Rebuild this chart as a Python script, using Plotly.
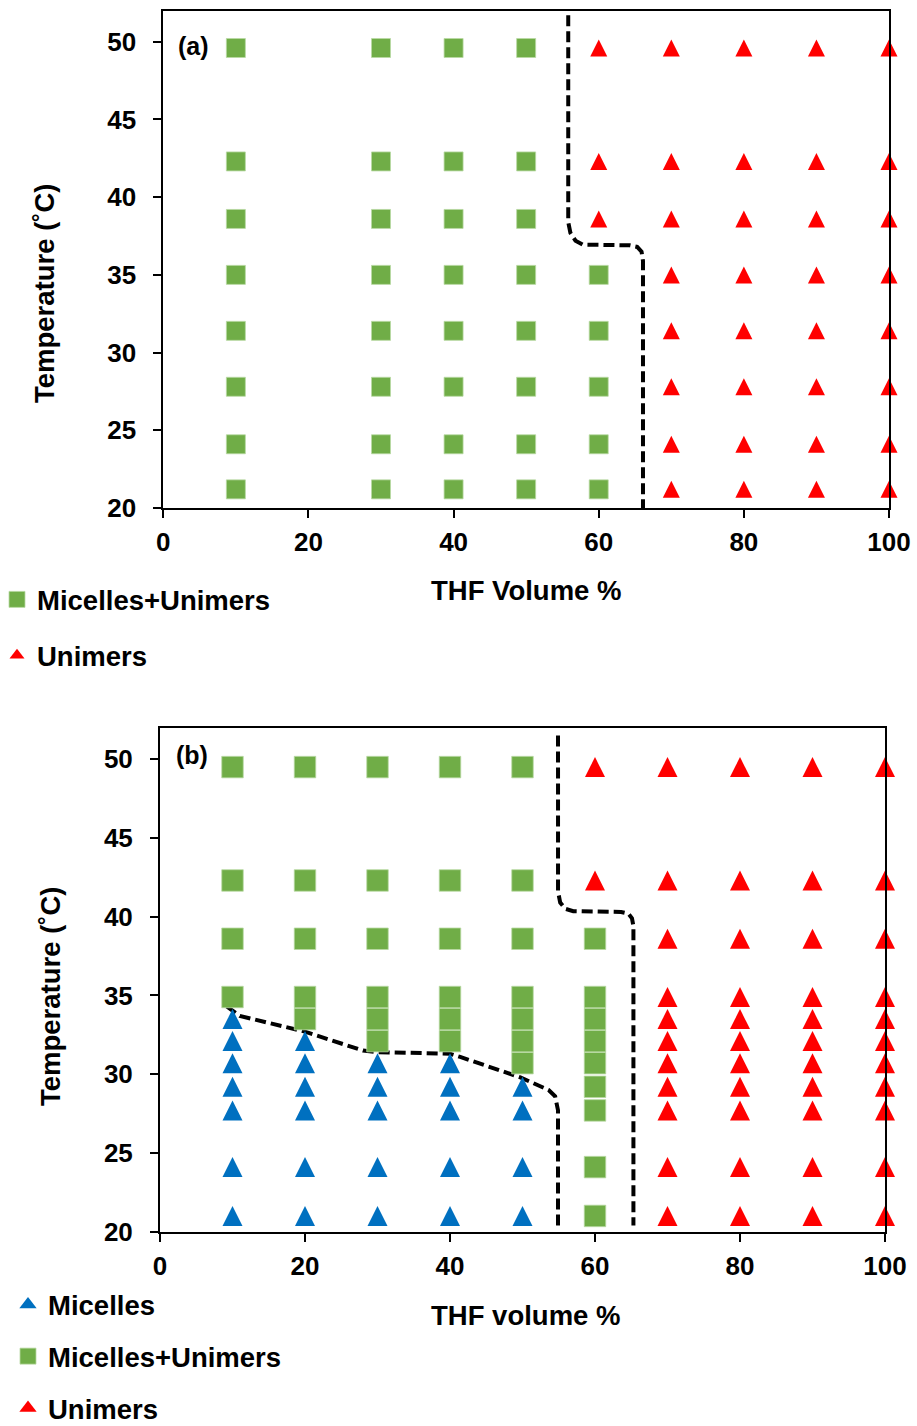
import plotly.graph_objects as go

# ---------------- data ----------------
# Panel (a)
temps_a = [21.2, 24.1, 27.8, 31.4, 35.0, 38.6, 42.3, 49.6]
thf_a = [10, 30, 40, 50, 60, 70, 80, 90, 100]
# phase per THF column, one letter per temperature in temps_a
# B = Micelles+Unimers, U = Unimers, M = Micelles
phase_a = ["BBBBBBBB", "BBBBBBBB", "BBBBBBBB", "BBBBBBBB", "BBBBBUUU",
           "UUUUUUUU", "UUUUUUUU", "UUUUUUUU", "UUUUUUUU"]

boundary_a_x = [55.8, 55.8, 56.1, 56.8, 57.8, 64.3, 65.3, 65.9, 66.1, 66.1]
boundary_a_y = [51.7, 38.4, 37.7, 37.2, 36.95, 36.9, 36.8, 36.5, 35.9, 20.0]

# Panel (b)
temps_b = [21.0, 24.1, 27.7, 29.2, 30.7, 32.1, 33.5, 34.9, 38.6, 42.3, 49.5]
thf_b = [10, 20, 30, 40, 50, 60, 70, 80, 90, 100]
phase_b = ["MMMMMMMBBBB", "MMMMMMBBBBB", "MMMMMBBBBBB", "MMMMMBBBBBB",
           "MMMMBBBBBBB", "BBBBBBBBBUU", "UUUUUUUUUUU", "UUUUUUUUUUU",
           "UUUUUUUUUUU", "UUUUUUUUUUU"]

boundary_b1_x = [54.9, 54.9, 55.2, 55.9, 57.0, 63.6, 64.6, 65.1, 65.3, 65.3]
boundary_b1_y = [51.5, 41.6, 40.9, 40.5, 40.35, 40.3, 40.2, 39.9, 39.4, 20.4]

boundary_b2_x = [9.2, 11.0, 20.0, 28.0, 30.0, 40.0, 41.4, 49.7, 53.6, 54.5, 54.9, 54.9]
boundary_b2_y = [34.3, 33.7, 32.7, 31.5, 31.4, 31.3, 31.1, 29.8, 29.0, 28.6, 27.7, 20.3]

names = {"M": "Micelles", "B": "Micelles+Unimers", "U": "Unimers"}
colors = {"M": "#0070C0", "B": "#70AD47", "U": "#FF0000"}

FONT = "Liberation Sans, Arial, sans-serif"
W, H = 917, 1426


def px(x):
    return x / W


def py(y):
    return 1 - y / H


def split(thf, temps, phases, code):
    xs, ys = [], []
    for xv, col in zip(thf, phases):
        for t, c in zip(temps, col):
            if c == code:
                xs.append(xv)
                ys.append(t)
    return xs, ys


fig = go.Figure()


def square_marker(code, size):
    return dict(symbol="square", size=size, color=colors[code],
                line=dict(width=0.8, color="#b9d9a3"))


def add_points(code, thf, temps, phases, xa, ya, sq_size, tri_size):
    xs, ys = split(thf, temps, phases, code)
    if code == "B":
        marker = square_marker(code, sq_size)
    else:
        # triangle with height == width, centred on the point
        marker = dict(symbol="arrow-down", angle=180, size=tri_size, color=colors[code],
                      standoff=tri_size / 2, line=dict(width=0))
    fig.add_trace(go.Scatter(x=xs, y=ys, mode="markers", name=names[code],
                             marker=marker, xaxis=xa, yaxis=ya, showlegend=False,
                             cliponaxis=False))


def add_legend_entry(code, xa, ya, legend, sq_size, tri_size):
    if code == "B":
        marker = square_marker(code, sq_size)
    else:
        marker = dict(symbol="triangle-up", size=tri_size, color=colors[code],
                      line=dict(width=0))
    fig.add_trace(go.Scatter(x=[None], y=[None], mode="markers", name=names[code],
                             marker=marker, xaxis=xa, yaxis=ya, legend=legend,
                             legendgroup=legend + code, showlegend=True))


dash_line = dict(color="black", width=4, dash="11px,5px")

# panel (a)
fig.add_trace(go.Scatter(x=boundary_a_x, y=boundary_a_y, mode="lines", line=dash_line,
                         showlegend=False, xaxis="x", yaxis="y", hoverinfo="skip"))
for code in ["B", "U"]:
    add_points(code, thf_a, temps_a, phase_a, "x", "y", 19, 17)
for code in ["B", "U"]:
    add_legend_entry(code, "x", "y", "legend", 16, 13)

# panel (b)
fig.add_trace(go.Scatter(x=boundary_b1_x, y=boundary_b1_y, mode="lines", line=dash_line,
                         showlegend=False, xaxis="x2", yaxis="y2", hoverinfo="skip"))
fig.add_trace(go.Scatter(x=boundary_b2_x, y=boundary_b2_y, mode="lines", line=dash_line,
                         showlegend=False, xaxis="x2", yaxis="y2", hoverinfo="skip"))
for code in ["M", "B", "U"]:
    add_points(code, thf_b, temps_b, phase_b, "x2", "y2", 21.5, 20)
for code in ["M", "B", "U"]:
    add_legend_entry(code, "x2", "y2", "legend2", 16, 15)

tickfont = dict(family=FONT, size=26, color="black", weight="bold")
common_x = dict(range=[0, 100], tickvals=[0, 20, 40, 60, 80, 100], showgrid=False,
                zeroline=False, showline=True, linecolor="black", linewidth=2,
                mirror=True, ticks="outside", ticklen=8, tickwidth=2, tickcolor="black",
                tickfont=tickfont, ticklabelstandoff=2)
common_y = dict(range=[20, 52], tickvals=[20, 25, 30, 35, 40, 45, 50], showgrid=False,
                zeroline=False, showline=True, linecolor="black", linewidth=2,
                mirror=True, ticks="outside", ticklen=8, tickwidth=2, tickcolor="black",
                tickfont=tickfont, ticklabelstandoff=12)

LFONT = dict(family=FONT, size=27.5, color="black", weight="bold")
fig.update_layout(
    width=W, height=H, autosize=False,
    margin=dict(l=0, r=0, t=0, b=0, autoexpand=False),
    paper_bgcolor="white", plot_bgcolor="white",
    font=dict(family=FONT, color="black"),
    xaxis=dict(domain=[px(163.3), px(889)], anchor="y", **common_x),
    yaxis=dict(domain=[py(508), py(10.7)], anchor="x", **common_y),
    xaxis2=dict(domain=[px(160), px(885)], anchor="y2", **common_x),
    yaxis2=dict(domain=[py(1231.7), py(727.7)], anchor="x2", **common_y),
    legend=dict(x=px(-3), y=py(575), xref="paper", yref="paper",
                xanchor="left", yanchor="top", font=LFONT,
                tracegroupgap=17, bgcolor="rgba(0,0,0,0)"),
    legend2=dict(x=px(8), y=py(1280), xref="paper", yref="paper",
                 xanchor="left", yanchor="top", font=LFONT,
                 tracegroupgap=13, bgcolor="rgba(0,0,0,0)"),
    showlegend=True,
)

ann_font = dict(family=FONT, size=27.5, color="black", weight="bold")
annotations = [
    dict(text="THF Volume %", x=px(526), y=py(590), showarrow=False, font=ann_font,
         xref="paper", yref="paper", xanchor="center", yanchor="middle"),
    dict(text="THF volume %", x=px(525), y=py(1315), showarrow=False, font=ann_font,
         xref="paper", yref="paper", xanchor="center", yanchor="middle"),
    dict(text="Temperature (˚C)", x=px(45), y=py(293), showarrow=False, font=ann_font,
         textangle=-90, xref="paper", yref="paper", xanchor="center", yanchor="middle"),
    dict(text="Temperature (˚C)", x=px(50), y=py(996), showarrow=False, font=ann_font,
         textangle=-90, xref="paper", yref="paper", xanchor="center", yanchor="middle"),
    dict(text="(a)", x=px(193), y=py(46), showarrow=False,
         font=dict(family=FONT, size=25, color="black", weight="bold"),
         xref="paper", yref="paper", xanchor="center", yanchor="middle"),
    dict(text="(b)", x=px(192), y=py(755), showarrow=False,
         font=dict(family=FONT, size=25, color="black", weight="bold"),
         xref="paper", yref="paper", xanchor="center", yanchor="middle"),
]
fig.update_layout(annotations=annotations)

fig.write_html("out.html")
